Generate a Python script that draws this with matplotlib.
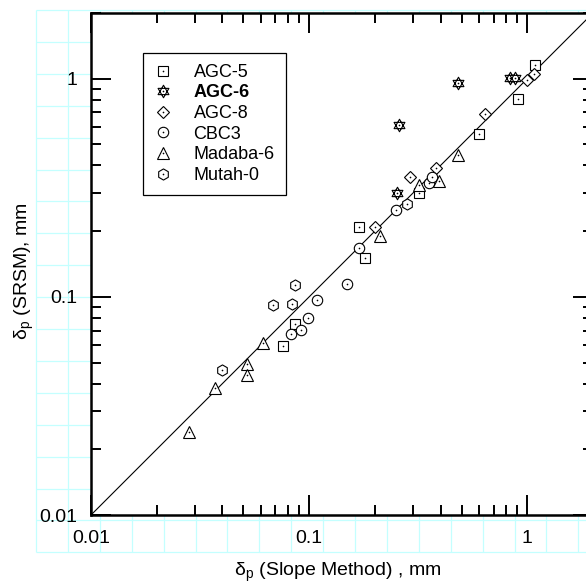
import numpy as np
import matplotlib
matplotlib.use('Agg')
import matplotlib.pyplot as plt
from matplotlib.path import Path
from matplotlib.legend_handler import HandlerTuple
from matplotlib.ticker import FixedLocator, LogLocator, NullFormatter, FixedFormatter

plt.rcParams['font.family'] = ['Liberation Sans', 'DejaVu Sans']
plt.rcParams['mathtext.fontset'] = 'custom'
plt.rcParams['mathtext.rm'] = 'Liberation Sans'
plt.rcParams['mathtext.it'] = 'Liberation Sans:italic'

# data (slope method, SRSM), mm
agc5_x = [1.09, 0.91, 0.60, 0.32, 0.170, 0.181, 0.0863, 0.0762]
agc5_y = [1.15, 0.81, 0.56, 0.30, 0.208, 0.150, 0.0748, 0.0598]

agc6_x = [0.481, 0.259, 0.254, 0.836, 0.881]
agc6_y = [0.955, 0.615, 0.300, 1.01, 1.01]

agc8_x = [1.07, 1.0, 0.642, 0.380, 0.291, 0.201]
agc8_y = [1.055, 0.99, 0.687, 0.391, 0.354, 0.210]

cbc3_x = [0.353, 0.366, 0.249, 0.169, 0.149, 0.109, 0.0993, 0.0916, 0.0827]
cbc3_y = [0.331, 0.353, 0.251, 0.168, 0.115, 0.0963, 0.0803, 0.0705, 0.0679]

madaba_x = [0.481, 0.392, 0.32, 0.211, 0.0612, 0.0519, 0.0519, 0.0371, 0.0281]
madaba_y = [0.449, 0.341, 0.326, 0.190, 0.0616, 0.0494, 0.0440, 0.0383, 0.0241]

mutah_x = [0.280, 0.0859, 0.0838, 0.0680, 0.0400]
mutah_y = [0.267, 0.1137, 0.0924, 0.0922, 0.0460]

line_x = [0.01, 2.0]
line_y = [0.01, 2.0]

tick_vals = [0.01, 0.1, 1]
tick_labels = ['0.01', '0.1', '1']

# hexagram (star of David) marker
ang_up = np.deg2rad([90, 210, 330])
ang_dn = np.deg2rad([270, 30, 150])
verts = []
codes = []
for angs in (ang_up, ang_dn):
    pts = [(np.cos(a), np.sin(a)) for a in angs]
    verts += pts + [pts[0]]
    codes += [Path.MOVETO, Path.LINETO, Path.LINETO, Path.CLOSEPOLY]
star = Path(verts, codes)

W, H = 586, 588
fig = plt.figure(figsize=(W / 100, H / 100), dpi=100)

# graph-paper background
bg = fig.add_axes([0, 0, 1, 1], zorder=0)
bg.set_xlim(0, W)
bg.set_ylim(H, 0)
bg.axis('off')
gx = np.arange(36, W + 1, 31.9)
gy = np.arange(10, 555, 31.9)
bg.vlines(gx, 10, gy[-1], color='#c4ffff', lw=0.9)
bg.hlines(gy, 36, W, color='#c4ffff', lw=0.9)

ax = fig.add_axes([91 / W, 1 - 515 / H, (593 - 91) / W, (515 - 13) / H], zorder=1)
ax.set_facecolor('white')
ax.set_xscale('log')
ax.set_yscale('log')
ax.set_xlim(0.01, 2)
ax.set_ylim(0.01, 2)

ax.plot(line_x, line_y, color='black', lw=0.8, zorder=2)

series = [
    ('AGC-5', agc5_x, agc5_y, 's', 7.0),
    ('AGC-6', agc6_x, agc6_y, star, 9.0),
    ('AGC-8', agc8_x, agc8_y, 'D', 6.0),
    ('CBC3', cbc3_x, cbc3_y, 'o', 7.5),
    ('Madaba-6', madaba_x, madaba_y, '^', 8.0),
    ('Mutah-0', mutah_x, mutah_y, 'h', 8.0),
]

handles = []
labels = []
for name, xs, ys, mk, ms in series:
    h, = ax.plot(xs, ys, ls='none', marker=mk, ms=ms, mfc='white', mec='black', mew=0.8, zorder=3)
    d, = ax.plot(xs, ys, ls='none', marker='o', ms=1.2, mfc='black', mec='black', mew=0, zorder=4)
    handles.append((h, d))
    labels.append(name)

leg = ax.legend(handles, labels, handler_map={tuple: HandlerTuple(ndivide=1)},
                loc='upper left', bbox_to_anchor=(143 / W, 1 - 53 / H),
                bbox_transform=fig.transFigure, fontsize=13, frameon=True,
                fancybox=False, edgecolor='black', framealpha=1,
                handlelength=1.0, handletextpad=1.2, labelspacing=0.2,
                borderpad=0.6, borderaxespad=0)
leg.get_frame().set_linewidth(0.9)
for t in leg.get_texts():
    if t.get_text() == 'AGC-6':
        t.set_fontweight('bold')

for axis in (ax.xaxis, ax.yaxis):
    axis.set_major_locator(FixedLocator(tick_vals))
    axis.set_major_formatter(FixedFormatter(tick_labels))
    axis.set_minor_locator(LogLocator(base=10, subs=np.arange(2, 10)))
    axis.set_minor_formatter(NullFormatter())

ax.tick_params(which='both', direction='in', top=True, right=True, labelsize=14)
ax.tick_params(axis='x', which='both', pad=11)
ax.tick_params(axis='y', which='both', pad=10)
ax.tick_params(which='major', length=14.5, width=1.4)
ax.tick_params(which='minor', length=7, width=1.4)
for s in ax.spines.values():
    s.set_linewidth(1.8)

fig.text(338 / W, 1 - 572 / H, r'δ$_\mathrm{p}$ (Slope Method) , mm', ha='center', va='center', fontsize=14)
fig.text(24 / W, 1 - 271 / H, r'δ$_\mathrm{p}$ (SRSM), mm', ha='center', va='center', fontsize=14, rotation=90)

fig.savefig('out.png', dpi=100)
